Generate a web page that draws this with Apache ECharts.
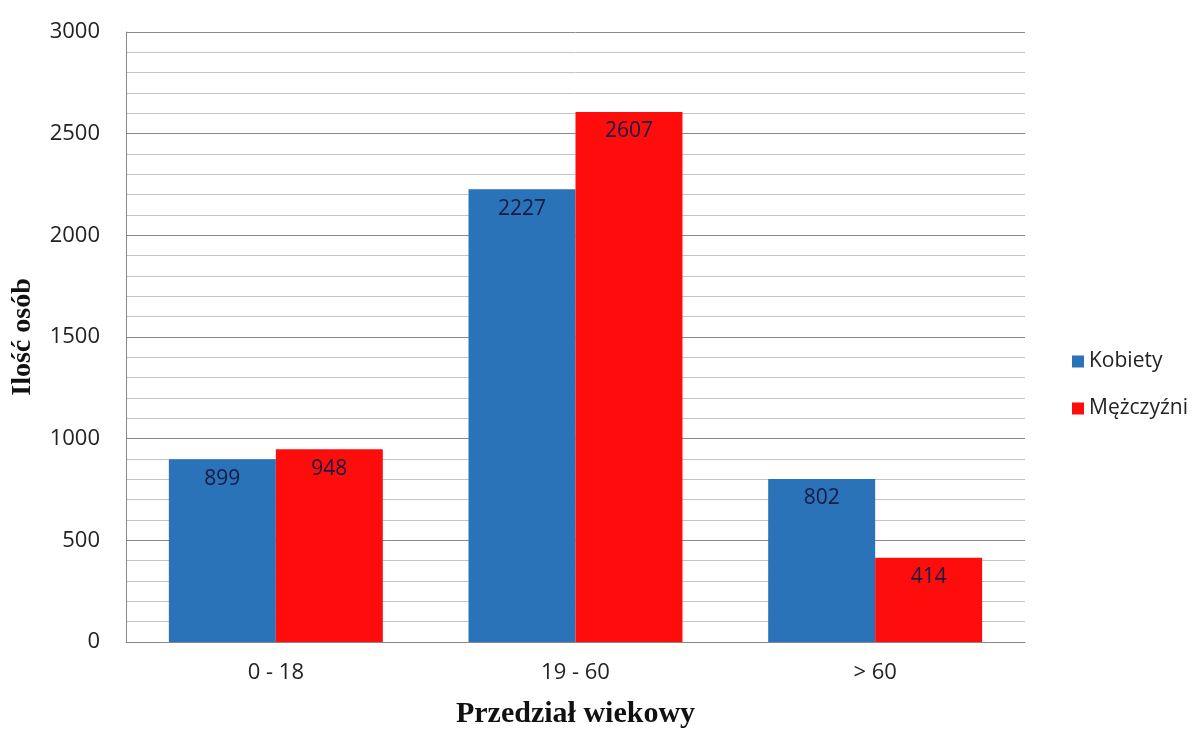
<!DOCTYPE html>
<html><head><meta charset="utf-8">
<script src="https://cdn.jsdelivr.net/npm/echarts@6/dist/echarts.min.js"></script>
<style>html,body{margin:0;padding:0;background:#fff}#c{width:1204px;height:732px}</style>
</head><body><div id="c"></div>
<script>
const categories = ['0 - 18', '19 - 60', '> 60'];
const kobiety = [899, 2227, 802];
const mezczyzni = [948, 2607, 414];
const seriesNames = ['Kobiety', 'Mężczyźni'];
const yTicks = [0, 500, 1000, 1500, 2000, 2500, 3000];

const chart = echarts.init(document.getElementById('c'));
const labelStyle = {show: true, position: 'insideTop', distance: 9, color: '#161a40', fontSize: 21, fontFamily: 'Open Sans'};
chart.setOption({
  animation: false,
  grid: {left: 126, right: 179, top: 32, bottom: 90, outerBoundsMode: 'none', containLabel: false},
  legend: {
    orient: 'vertical', left: 1067, top: 346, itemWidth: 12, itemHeight: 12, itemGap: 26,
    icon: 'rect', textStyle: {fontSize: 21, fontFamily: 'Open Sans', color: '#222'},
    data: seriesNames
  },
  xAxis: {
    type: 'category', data: categories,
    axisLine: {lineStyle: {color: '#888'}},
    axisTick: {show: false},
    axisLabel: {fontSize: 22, fontFamily: 'Open Sans', color: '#222', margin: 20},
    name: 'Przedział wiekowy', nameLocation: 'middle', nameGap: 57,
    nameTextStyle: {fontSize: 30, fontWeight: 'bold', fontFamily: 'Liberation Serif', color: '#111'}
  },
  yAxis: {
    type: 'value', min: yTicks[0], max: yTicks[yTicks.length - 1], interval: 500,
    axisLine: {show: true, lineStyle: {color: '#888'}},
    axisTick: {show: false},
    axisLabel: {fontSize: 22, fontFamily: 'Open Sans', color: '#222', margin: 26, formatter: v => String(v)},
    splitLine: {lineStyle: {color: '#8a8a8a', width: 1}},
    minorTick: {show: false, splitNumber: 5},
    minorSplitLine: {show: true, lineStyle: {color: '#c4c4c4', width: 1}},
    name: 'Ilość osób', nameLocation: 'middle', nameGap: 89, nameRotate: 90,
    nameTextStyle: {fontSize: 28, fontWeight: 'bold', fontFamily: 'Liberation Serif', color: '#111'}
  },
  series: [
    {name: seriesNames[0], type: 'bar', data: kobiety, barGap: '0%', barCategoryGap: '28.6%',
     itemStyle: {color: '#2a73b9'}, label: labelStyle},
    {name: seriesNames[1], type: 'bar', data: mezczyzni,
     itemStyle: {color: '#ff0d0d'}, label: labelStyle}
  ]
});
</script></body></html>
